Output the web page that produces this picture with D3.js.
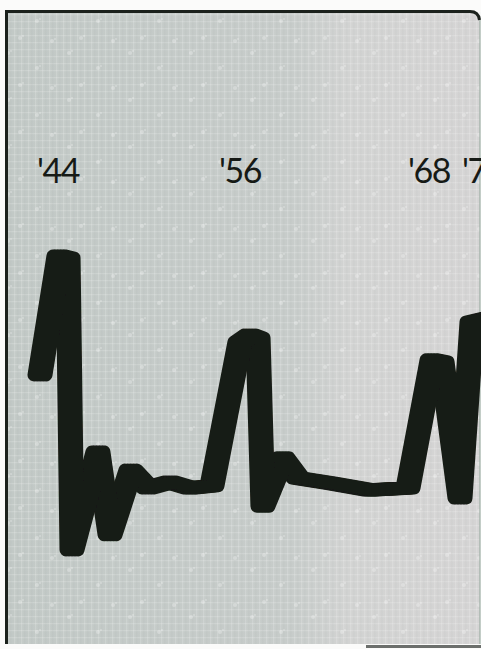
<!DOCTYPE html>
<html>
<head>
<meta charset="utf-8">
<script src="https://cdn.jsdelivr.net/npm/d3@7"></script>
<style>
  html, body { margin: 0; padding: 0; background: #fbfbfa; }
  svg { display: block; }
</style>
</head>
<body>
<svg id="chart" width="481" height="649"></svg>
<script>
// Yearly index, traced as one brush-drawn line
const years  = [1944.0, 1945.25, 1945.85, 1946.11, 1947.82, 1948.62, 1950.0, 1951.12, 1952.57, 1953.89,
                1955.34, 1957.14, 1957.78, 1958.29, 1958.6, 1959.87, 1960.83, 1962.86, 1965.4, 1967.81,
                1969.56, 1970.3, 1971.63, 1972.52, 1973.85];
const values = [58.6, 92.6, 92.0, 8.6, 36.6, 12.9, 31.4, 26.3, 28.0, 26.3,
                26.9, 68.0, 70.0, 69.1, 21.1, 34.9, 29.1, 27.7, 25.7, 26.3,
                62.9, 62.3, 23.4, 73.7, 74.9];

// Year labels across the top
const tickYears  = [1944, 1956, 1968, 1972];
const tickLabels = ["'44", "'56", "'68", "'72"];

const svg = d3.select("#chart");

const x = d3.scaleLinear().domain(tickYears).range([40, 222, 411, 465]);
const y = d3.scaleLinear().domain([0, 100]).range([580, 230]);

const defs = svg.append("defs");

// panel tone: grey-green on the left fading to light grey on the right
const grad = defs.append("linearGradient").attr("id", "tone")
  .attr("x1", 0).attr("x2", 1).attr("y1", 0).attr("y2", 0);
grad.append("stop").attr("offset", "0%").attr("stop-color", "#c2c9c6");
grad.append("stop").attr("offset", "60%").attr("stop-color", "#c7ccca");
grad.append("stop").attr("offset", "72%").attr("stop-color", "#d2d3d2");
grad.append("stop").attr("offset", "100%").attr("stop-color", "#d5d4d4");

// fine screen texture
const grid = defs.append("pattern").attr("id", "screen")
  .attr("patternUnits", "userSpaceOnUse").attr("width", 7).attr("height", 7);
grid.append("rect").attr("x", 0).attr("y", 0).attr("width", 7).attr("height", 1.2)
  .attr("fill", "rgba(255,255,255,0.16)");
grid.append("rect").attr("x", 0).attr("y", 0).attr("width", 1.2).attr("height", 7)
  .attr("fill", "rgba(255,255,255,0.16)");
grid.append("rect").attr("x", 3.5).attr("y", 0).attr("width", 0.8).attr("height", 7)
  .attr("fill", "rgba(120,130,125,0.08)");

// scattered light specks
const speck = defs.append("pattern").attr("id", "specks")
  .attr("patternUnits", "userSpaceOnUse").attr("width", 61).attr("height", 47);
[[8, 6], [37, 21], [20, 38], [52, 41]].forEach(([cx, cy]) => {
  speck.append("circle").attr("cx", cx).attr("cy", cy).attr("r", 2)
    .attr("fill", "rgba(255,255,255,0.28)");
  speck.append("circle").attr("cx", cx + 3).attr("cy", cy - 2).attr("r", 1.1)
    .attr("fill", "rgba(255,255,255,0.25)");
});

const soft = defs.append("filter").attr("id", "soft");
soft.append("feGaussianBlur").attr("stdDeviation", 0.6);

// panel
const panel = svg.append("g");
panel.append("path")
  .attr("d", "M6,649 V11 H470 Q480,11 480,21 V644 H6 Z")
  .attr("fill", "url(#tone)");
panel.append("rect").attr("x", 7).attr("y", 12).attr("width", 474).attr("height", 632)
  .attr("fill", "url(#screen)");
panel.append("rect").attr("x", 7).attr("y", 12).attr("width", 474).attr("height", 632)
  .attr("fill", "url(#specks)").attr("filter", "url(#soft)");

// frame edges
panel.append("path")
  .attr("d", "M6.5,644 V11.5 H470 Q478.5,11.5 479.5,20")
  .attr("fill", "none").attr("stroke", "#1b211c").attr("stroke-width", 3);
panel.append("line").attr("x1", 480).attr("x2", 480).attr("y1", 20).attr("y2", 644)
  .attr("stroke", "#9fb0a6").attr("stroke-width", 1.2);
panel.append("rect").attr("x", 366).attr("y", 645).attr("width", 115).attr("height", 3)
  .attr("fill", "#6c6f6c");

// year labels
svg.append("g").selectAll("text")
  .data(tickYears)
  .join("text")
  .attr("x", d => x(d) - 3)
  .attr("y", 183)
  .attr("font-family", "Lato, 'Open Sans', sans-serif")
  .attr("font-weight", 400)
  .attr("font-size", 34)
  .attr("letter-spacing", -1.5)
  .attr("fill", "#161a16")
  .text((d, i) => tickLabels[i]);

// brush line: the path is laid down several times with a horizontal offset,
// so vertical strokes come out wider than horizontal ones
const line = d3.line()
  .x((d, i) => x(years[i]))
  .y((d, i) => y(values[i]));

const ink = svg.append("g").attr("filter", "url(#soft)");
[-6, -3, 0, 3, 6].forEach(dx => {
  ink.append("path")
    .datum(values)
    .attr("transform", `translate(${dx},0)`)
    .attr("d", line)
    .attr("fill", "none")
    .attr("stroke", "#161b14")
    .attr("stroke-width", 13)
    .attr("stroke-linejoin", "round")
    .attr("stroke-linecap", "round");
});
</script>
</body>
</html>
